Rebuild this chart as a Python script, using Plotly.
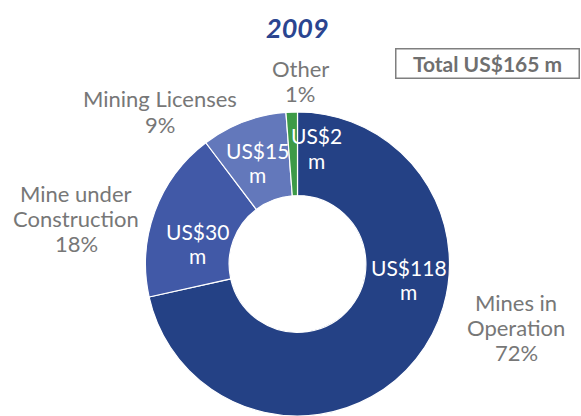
import plotly.graph_objects as go

categories = ["Mines in Operation", "Mine under Construction", "Mining Licenses", "Other"]
outer_lines = [["Mines in", "Operation"], ["Mine under", "Construction"], ["Mining Licenses"], ["Other"]]
values = [118, 30, 15, 2]
percents = [72, 18, 9, 1]
total = 165
title_text = "2009"

colors = ["#244185", "#4159a7", "#6378bb", "#3d9a47"]

W, H = 581, 416

# text anchor positions in pixels (first-line centre) - placement only
outer_pos = [(516, 302), (76, 193), (160, 99), (300, 69)]
inner_pos = [(409, 267), (197, 231), (257, 151), (316, 136)]
OUT_STEP, IN_STEP = 25, 24

fig = go.Figure(go.Pie(
    labels=categories,
    values=values,
    hole=0.45,
    sort=False,
    direction="clockwise",
    rotation=0,
    marker=dict(colors=colors, line=dict(color="white", width=1.2)),
    textinfo="none",
    hoverinfo="label+value+percent",
    showlegend=False,
    domain=dict(x=[145 / W, 450 / W], y=[0, (H - 112) / H]),
))

ann = []


def add_lines(lines, x, y, step, size, color):
    for i, t in enumerate(lines):
        ann.append(dict(text=t, x=x / W, y=1 - (y + i * step) / H, xref="paper", yref="paper",
                        showarrow=False, xanchor="center", yanchor="middle",
                        font=dict(family="Lato", size=size, color=color)))


for lines, p, (x, y) in zip(outer_lines, percents, outer_pos):
    add_lines(lines + [f"{p}%"], x, y, OUT_STEP, 22, "#777777")
for v, (x, y) in zip(values, inner_pos):
    add_lines([f"US${v}", "m"], x, y, IN_STEP, 21, "white")

ann.append(dict(text=f"<b>Total US${total} m</b>", x=487.5 / W, y=1 - 63 / H, xref="paper", yref="paper",
                showarrow=False, xanchor="center", yanchor="middle",
                bordercolor="#7f7f7f", borderwidth=1.5, borderpad=1, bgcolor="white",
                width=180, height=26,
                font=dict(family="Lato", size=21, color="#6f6f6f")))
ann.append(dict(text=f"<b><i>{title_text}</i></b>", x=297 / W, y=1 - 28 / H, xref="paper", yref="paper",
                showarrow=False, xanchor="center", yanchor="middle",
                font=dict(family="Lato", size=27, color="#2a4590")))

fig.update_layout(
    width=W, height=H,
    margin=dict(l=0, r=0, t=0, b=0),
    paper_bgcolor="white",
    plot_bgcolor="white",
    annotations=ann,
)

fig.write_html("out.html", config={"displayModeBar": False},
               post_script="document.body.style.margin='0';")
